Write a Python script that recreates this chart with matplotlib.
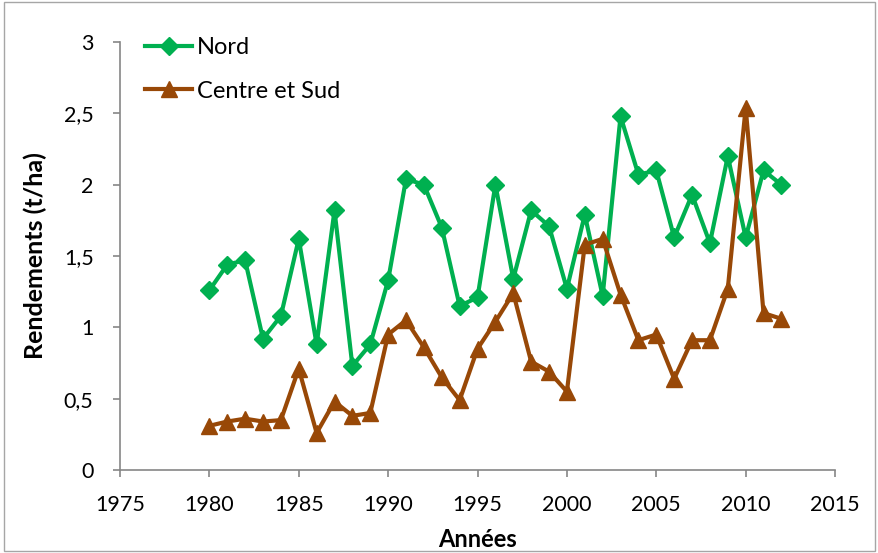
import matplotlib
matplotlib.use("Agg")
import matplotlib.pyplot as plt
from matplotlib.patches import Rectangle
from matplotlib.ticker import FuncFormatter

plt.rcParams["font.family"] = ["Lato", "DejaVu Sans"]

years = list(range(1980, 2013))

nord = [1.26, 1.44, 1.47, 0.92, 1.08, 1.62, 0.88, 1.82, 0.73, 0.88,
        1.33, 2.04, 2.00, 1.70, 1.15, 1.21, 2.00, 1.34, 1.82, 1.71,
        1.27, 1.79, 1.22, 2.48, 2.07, 2.10, 1.63, 1.93, 1.59, 2.20,
        1.63, 2.10, 2.00]

centre_sud = [0.31, 0.34, 0.36, 0.34, 0.35, 0.71, 0.26, 0.48, 0.38, 0.40,
              0.95, 1.05, 0.86, 0.65, 0.49, 0.85, 1.04, 1.24, 0.76, 0.69,
              0.55, 1.58, 1.62, 1.23, 0.91, 0.95, 0.64, 0.91, 0.91, 1.27,
              2.54, 1.10, 1.06]

fig = plt.figure(figsize=(8.79, 5.53), dpi=100)
ax = fig.add_axes([0.1365, 0.150, 0.8135, 0.774])

ax.plot(years, nord, color="#00B050", lw=3, marker="D", ms=9, label="Nord")
ax.plot(years, centre_sud, color="#984807", lw=3, marker="^", ms=11,
        label="Centre et Sud")

ax.set_xlim(1975, 2015)
ax.set_ylim(0, 3)
ax.set_xticks(range(1975, 2016, 5))
ax.set_yticks([0, 0.5, 1, 1.5, 2, 2.5, 3])
ax.yaxis.set_major_formatter(FuncFormatter(lambda v, p: f"{v:g}".replace(".", ",")))

for s in ["top", "right"]:
    ax.spines[s].set_visible(False)
for s in ["left", "bottom"]:
    ax.spines[s].set_color("#868686")
    ax.spines[s].set_linewidth(1.2)
ax.tick_params(axis="both", colors="#868686", labelcolor="black",
               labelsize=15.5, length=5, width=1.2, direction="out")
ax.tick_params(axis="x", pad=13)
ax.tick_params(axis="y", pad=14)

ax.set_xlabel("Années", fontsize=17, fontweight="bold", labelpad=9)
ax.set_ylabel("Rendements (t/ha)", fontsize=18, fontweight="bold", labelpad=12)

ax.legend(loc="upper left", bbox_to_anchor=(0.012, 1.05), frameon=False,
          fontsize=17, handlelength=2.0, labelspacing=0.95, borderpad=0.2,
          handletextpad=0.2)

fig.patches.append(Rectangle((0.004, 0.004), 0.992, 0.992,
                             transform=fig.transFigure, fill=False,
                             edgecolor="#A6A6A6", lw=1))

fig.savefig("out.png", dpi=100)
